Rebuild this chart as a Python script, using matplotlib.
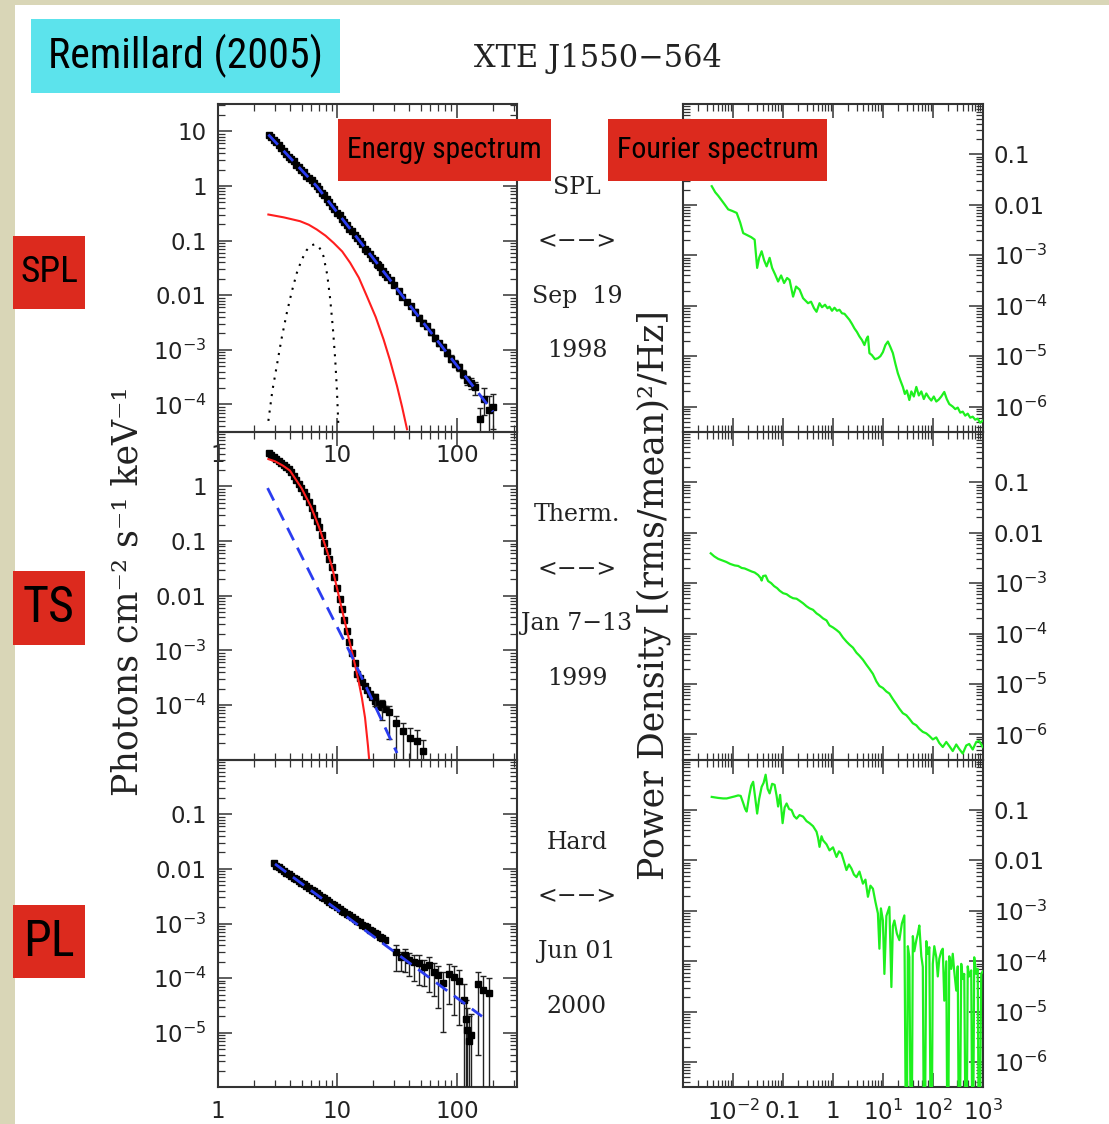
import numpy as np
import matplotlib
matplotlib.use('Agg')
import matplotlib.pyplot as plt
from matplotlib import font_manager
from matplotlib.patches import Rectangle
from matplotlib.ticker import LogLocator, FixedLocator, FuncFormatter, NullFormatter

W, H = 1109, 1124

# ---------------------------------------------------------------- energy spectra
# PCA channel energies (keV); the hard state starts at the third channel
pca_kev = [2.65, 2.78, 2.92, 3.07, 3.22, 3.38, 3.55, 3.73, 3.91, 4.11, 4.31, 4.53, 4.75, 4.99,
           5.24, 5.50, 5.78, 6.07, 6.37, 6.69, 7.02, 7.37, 7.74, 8.13, 8.54, 8.96, 9.41, 9.88,
           10.4, 10.9, 11.4, 12.0, 12.6, 13.2, 13.9, 14.6, 15.3, 16.1, 16.9, 17.7, 18.6, 19.5,
           20.5, 21.5, 22.6, 23.7, 24.9]

# log10 photon flux (photons cm^-2 s^-1 keV^-1)
spl_pca = [0.94, 0.89, 0.84, 0.80, 0.75, 0.69, 0.645, 0.59, 0.53, 0.49, 0.45, 0.39, 0.35, 0.30,
           0.26, 0.19, 0.15, 0.10, 0.05, 0.00, -0.06, -0.12, -0.17, -0.24, -0.30, -0.36, -0.42,
           -0.50, -0.54, -0.60, -0.66, -0.72, -0.78, -0.83, -0.90, -0.95, -1.01, -1.07, -1.15,
           -1.19, -1.25, -1.31, -1.35, -1.43, -1.49, -1.57, -1.61]
ts_pca = [0.61, 0.58, 0.54, 0.51, 0.47, 0.43, 0.40, 0.36, 0.32, 0.27, 0.19, 0.12, 0.05, -0.03,
          -0.10, -0.18, -0.29, -0.40, -0.52, -0.63, -0.75, -0.89, -1.03, -1.18, -1.32, -1.47,
          -1.66, -1.86, -2.06, -2.25, -2.45, -2.65, -2.85, -3.04, -3.24, -3.43, -3.50, -3.58,
          -3.66, -3.73, -3.80, -3.86, -3.92, -3.98, -4.01, -4.04, -4.07]
pl_pca = [-1.90, -1.94, -1.96, -2.01, -2.03, -2.07, -2.09, -2.13, -2.16, -2.19, -2.22, -2.26,
          -2.28, -2.32, -2.35, -2.38, -2.41, -2.45, -2.47, -2.51, -2.54, -2.57, -2.60, -2.64,
          -2.66, -2.70, -2.73, -2.77, -2.79, -2.83, -2.85, -2.89, -2.92, -2.95, -2.98, -3.02,
          -3.04, -3.06, -3.12, -3.13, -3.17, -3.20, -3.25, -3.26, -3.30]

# HEXTE points: (keV, log10 flux, dex below, dex above)
spl_hexte = [(22, -1.44, 0.02, 0.02), (24, -1.56, 0.02, 0.02), (26, -1.66, 0.02, 0.02),
             (28, -1.73, 0.02, 0.02), (30, -1.81, 0.03, 0.03), (32.5, -1.93, 0.03, 0.03),
             (35, -2.03, 0.03, 0.03), (38, -2.12, 0.03, 0.03), (41, -2.19, 0.03, 0.03),
             (44.5, -2.30, 0.04, 0.04), (48, -2.41, 0.04, 0.04), (52, -2.50, 0.04, 0.04),
             (56, -2.57, 0.04, 0.04), (60.5, -2.67, 0.05, 0.05), (65, -2.78, 0.05, 0.05),
             (70.5, -2.88, 0.05, 0.05), (76, -2.94, 0.05, 0.05), (82.5, -3.05, 0.06, 0.06),
             (89, -3.16, 0.06, 0.06), (96.5, -3.25, 0.07, 0.06), (104, -3.32, 0.07, 0.06),
             (112, -3.44, 0.08, 0.07), (121, -3.55, 0.10, 0.08), (131, -3.60, 0.12, 0.09),
             (141, -3.68, 0.15, 0.10), (155, -4.27, 0.30, 0.20), (170, -3.90, 0.30, 0.20),
             (185, -4.10, 0.45, 0.25), (200, -4.05, 0.40, 0.25)]
ts_hexte = [(20.5, -3.86, 0.15, 0.06), (23.5, -3.98, 0.30, 0.08), (27, -4.12, 0.50, 0.10),
            (31, -4.33, 0.80, 0.12), (35.5, -4.48, 1.00, 0.15), (40.5, -4.60, 1.00, 0.18),
            (46, -4.66, 1.00, 0.20), (52, -4.85, 1.00, 0.20)]
pl_hexte = [(31, -3.52, 0.35, 0.12), (34, -3.62, 0.25, 0.10), (37, -3.58, 0.30, 0.12),
            (40, -3.66, 0.30, 0.12), (44, -3.70, 0.35, 0.12), (48, -3.72, 0.40, 0.15),
            (53, -3.80, 0.35, 0.14), (58, -3.76, 0.50, 0.15), (64, -3.88, 0.45, 0.15),
            (70, -3.95, 0.60, 0.18), (77, -4.08, 0.90, 0.20), (85, -3.92, 0.55, 0.17),
            (94, -3.98, 0.70, 0.20), (104, -4.05, 0.80, 0.20), (114, -4.40, 2.0, 0.30),
            (118, -4.75, 2.0, 0.35), (122, -4.95, 2.0, 0.40), (126, -5.15, 2.0, 0.45),
            (131, -5.05, 2.0, 0.40), (150, -4.10, 1.3, 0.22), (165, -4.22, 2.0, 0.25),
            (185, -4.28, 2.0, 0.28)]

# model components: (keV, log10 flux)
spl_powerlaw = [(2.64, 0.94), (6.7, -0.005), (20, -1.33), (60, -2.67), (200, -4.13)]
spl_disk = [(2.64, -0.523), (3.55, -0.575), (4.86, -0.645), (5.75, -0.71), (6.71, -0.797),
            (7.94, -0.91), (9.26, -1.04), (10.96, -1.20), (12.76, -1.406), (15.1, -1.68),
            (17.6, -2.016), (20.9, -2.40), (24.3, -2.808), (27.5, -3.19), (31.5, -3.662),
            (34.7, -4.04), (38.2, -4.453)]
spl_line = [(2.64, -4.30), (2.85, -3.75), (3.1, -3.30), (3.4, -2.80), (3.77, -2.32), (4.15, -1.93),
            (4.57, -1.59), (5.0, -1.36), (5.5, -1.18), (6.0, -1.09), (6.4, -1.07), (6.9, -1.10),
            (7.3, -1.18), (7.63, -1.285), (8.2, -1.62), (8.69, -2.07), (9.15, -2.60), (9.57, -3.17),
            (9.9, -3.75), (10.2, -4.45)]
ts_powerlaw = [(2.6, -0.03), (6.7, -1.83), (12.8, -3.05), (31.5, -4.88)]
ts_disk = [(2.64, 0.50), (3.0, 0.46), (3.5, 0.38), (4.0, 0.29), (5.0, -0.03), (6.0, -0.37),
           (7.0, -0.74), (8.0, -1.12), (9.0, -1.47), (10.0, -1.90), (11.0, -2.29), (12.0, -2.64),
           (13.0, -2.96), (14.0, -3.26), (15.0, -3.56), (16.0, -3.87), (17.0, -4.23), (18.0, -4.75),
           (18.5, -5.05)]
pl_powerlaw = [(3.0, -1.91), (162, -4.70)]

# ---------------------------------------------------------------- power density spectra
# (log10 Hz, log10 (rms/mean)^2/Hz); -9 marks bins that fall to zero / negative
spl_pds = [(-2.43, -1.63), (-2.36, -1.75), (-2.30, -1.82), (-2.24, -1.90), (-2.18, -1.98),
           (-2.10, -2.09), (-2.02, -2.12), (-1.93, -2.16), (-1.86, -2.35), (-1.80, -2.56),
           (-1.72, -2.60), (-1.64, -2.64), (-1.57, -2.69), (-1.52, -3.25), (-1.48, -3.05),
           (-1.43, -2.92), (-1.38, -3.10), (-1.33, -3.22), (-1.27, -3.05), (-1.22, -3.25),
           (-1.16, -3.38), (-1.10, -3.52), (-1.04, -3.40), (-0.98, -3.55), (-0.92, -3.45),
           (-0.87, -3.49), (-0.80, -3.82), (-0.74, -3.62), (-0.67, -3.68), (-0.60, -3.85),
           (-0.55, -3.90), (-0.50, -3.95), (-0.44, -3.92), (-0.38, -4.05), (-0.33, -4.12),
           (-0.27, -3.95), (-0.22, -4.03), (-0.16, -3.98), (-0.11, -4.05), (-0.07, -4.02),
           (-0.02, -4.10), (0.03, -4.04), (0.08, -4.10), (0.13, -4.08), (0.18, -4.15),
           (0.23, -4.16), (0.28, -4.22), (0.33, -4.28), (0.38, -4.36), (0.43, -4.45),
           (0.48, -4.52), (0.53, -4.61), (0.58, -4.68), (0.63, -4.78), (0.67, -4.66),
           (0.70, -4.61), (0.73, -4.94), (0.78, -4.98), (0.84, -5.06), (0.90, -5.04),
           (0.95, -5.00), (1.00, -4.92), (1.05, -4.78), (1.10, -4.71), (1.15, -4.82),
           (1.20, -4.94), (1.25, -5.15), (1.30, -5.34), (1.35, -5.48), (1.40, -5.61),
           (1.44, -5.75), (1.48, -5.68), (1.53, -5.87), (1.57, -5.70), (1.62, -5.80),
           (1.67, -5.61), (1.72, -5.78), (1.77, -5.70), (1.82, -5.85), (1.87, -5.74),
           (1.92, -5.82), (1.97, -5.88), (2.02, -5.80), (2.07, -5.90), (2.12, -5.86),
           (2.17, -5.80), (2.23, -5.71), (2.28, -5.85), (2.33, -5.95), (2.40, -6.00),
           (2.45, -6.05), (2.50, -6.02), (2.55, -6.12), (2.60, -6.10), (2.65, -6.18),
           (2.70, -6.14), (2.75, -6.22), (2.80, -6.20), (2.85, -6.26), (2.90, -6.24),
           (2.95, -6.32), (3.00, -6.28)]
ts_pds = [(-2.45, -2.41), (-2.38, -2.47), (-2.30, -2.52), (-2.22, -2.55), (-2.14, -2.58),
          (-2.06, -2.62), (-1.97, -2.65), (-1.90, -2.66), (-1.83, -2.70), (-1.77, -2.71),
          (-1.70, -2.74), (-1.63, -2.77), (-1.57, -2.79), (-1.50, -2.84), (-1.45, -2.90),
          (-1.43, -2.95), (-1.40, -2.86), (-1.35, -2.85), (-1.30, -2.96), (-1.24, -3.00),
          (-1.18, -3.06), (-1.12, -3.10), (-1.07, -3.15), (-1.00, -3.20), (-0.93, -3.22),
          (-0.86, -3.27), (-0.80, -3.30), (-0.73, -3.31), (-0.67, -3.35), (-0.60, -3.40),
          (-0.53, -3.46), (-0.47, -3.50), (-0.40, -3.53), (-0.33, -3.60), (-0.27, -3.64),
          (-0.20, -3.70), (-0.13, -3.74), (-0.07, -3.84), (0.00, -3.88), (0.07, -3.93),
          (0.13, -3.98), (0.20, -4.08), (0.27, -4.16), (0.33, -4.22), (0.40, -4.28),
          (0.47, -4.38), (0.53, -4.44), (0.60, -4.52), (0.67, -4.62), (0.73, -4.70),
          (0.80, -4.80), (0.87, -4.95), (0.93, -5.04), (1.00, -5.08), (1.07, -5.15),
          (1.13, -5.19), (1.20, -5.30), (1.27, -5.40), (1.33, -5.49), (1.40, -5.58),
          (1.47, -5.62), (1.53, -5.69), (1.60, -5.78), (1.67, -5.82), (1.73, -5.89),
          (1.80, -5.95), (1.87, -5.98), (1.93, -6.03), (2.00, -6.10), (2.07, -6.06),
          (2.13, -6.17), (2.20, -6.25), (2.27, -6.15), (2.33, -6.23), (2.40, -6.33),
          (2.47, -6.20), (2.53, -6.29), (2.60, -6.38), (2.67, -6.22), (2.73, -6.19),
          (2.80, -6.30), (2.87, -6.15), (2.93, -6.13), (3.00, -6.25)]
pl_pds = [(-2.43, -0.74), (-2.30, -0.76), (-2.20, -0.77), (-2.13, -0.77), (-2.05, -0.75),
          (-1.97, -0.73), (-1.90, -0.71), (-1.85, -0.72), (-1.80, -0.86), (-1.76, -0.98),
          (-1.73, -1.03), (-1.68, -0.72), (-1.64, -0.52), (-1.60, -0.44), (-1.56, -0.75),
          (-1.52, -1.07), (-1.48, -0.78), (-1.43, -0.54), (-1.39, -0.46), (-1.35, -0.30),
          (-1.31, -0.58), (-1.27, -0.67), (-1.22, -0.48), (-1.17, -0.50), (-1.13, -0.72),
          (-1.10, -0.93), (-1.06, -0.70), (-1.01, -1.26), (-0.97, -0.95), (-0.93, -0.87),
          (-0.88, -0.98), (-0.83, -1.00), (-0.78, -1.12), (-0.73, -1.17), (-0.67, -1.10),
          (-0.60, -1.13), (-0.53, -1.22), (-0.47, -1.26), (-0.40, -1.32), (-0.33, -1.43),
          (-0.30, -1.55), (-0.27, -1.73), (-0.23, -1.52), (-0.20, -1.60), (-0.13, -1.68),
          (-0.07, -1.80), (0.00, -1.74), (0.07, -1.93), (0.12, -1.82), (0.17, -1.86),
          (0.22, -2.02), (0.27, -2.19), (0.32, -2.08), (0.37, -2.16), (0.42, -2.28),
          (0.47, -2.33), (0.53, -2.22), (0.60, -2.46), (0.65, -2.38), (0.70, -2.72),
          (0.75, -2.50), (0.80, -2.56), (0.85, -2.82), (0.90, -3.05), (0.93, -3.75),
          (0.96, -2.95), (1.00, -3.19), (1.03, -4.25), (1.07, -3.10), (1.13, -2.92),
          (1.17, -4.51), (1.20, -3.30), (1.23, -3.19), (1.28, -3.45), (1.33, -3.58),
          (1.38, -3.25), (1.43, -3.09), (1.47, -9), (1.50, -3.70), (1.53, -3.92),
          (1.57, -9), (1.60, -3.50), (1.63, -3.80), (1.67, -3.58), (1.70, -3.45),
          (1.73, -3.29), (1.77, -3.90), (1.80, -4.11), (1.83, -9), (1.87, -3.60),
          (1.90, -3.85), (1.93, -3.72), (1.97, -9), (2.00, -4.05), (2.03, -3.70),
          (2.07, -3.92), (2.10, -4.30), (2.13, -3.95), (2.17, -3.80), (2.20, -3.75),
          (2.23, -4.78), (2.27, -4.00), (2.30, -9), (2.33, -3.90), (2.37, -4.15),
          (2.40, -3.85), (2.43, -4.20), (2.47, -4.58), (2.50, -4.10), (2.53, -9),
          (2.57, -4.05), (2.60, -4.35), (2.63, -4.25), (2.67, -9), (2.70, -4.10),
          (2.73, -4.30), (2.77, -4.18), (2.80, -9), (2.83, -3.92), (2.87, -4.25),
          (2.90, -4.15), (2.93, -9), (2.97, -4.25), (3.00, -4.20)]

states = ['SPL', 'TS', 'PL']
dates = [['SPL', '<−−>', 'Sep  19', '1998'],
         ['Therm.', '<−−>', 'Jan 7−13', '1999'],
         ['Hard', '<−−>', 'Jun 01', '2000']]

# ---------------------------------------------------------------- helpers
plt.rcParams['font.family'] = 'DejaVu Sans'
plt.rcParams['mathtext.fontset'] = 'dejavusans'
SERIF = 'DejaVu Serif'
names = {f.name for f in font_manager.fontManager.ttflist}
narrow = [n for n in ('Liberation Sans Narrow', 'Roboto Condensed', 'DejaVu Sans Condensed') if n in names]
BOXFONT = narrow[0] if narrow else 'DejaVu Sans'


def fx(x):
    return x / W


def fy(y):
    return 1 - y / H


def unlog(pts):
    a = np.array(pts, dtype=float)
    return a[:, 0], 10 ** a[:, 1]


def flux_label(shown):
    names = {1: '10', 0: '1', -1: '0.1', -2: '0.01'}

    def fmt(v, pos):
        e = int(round(np.log10(v)))
        if e not in shown:
            return ''
        return names.get(e, '10$^{%d}$' % e)
    return fmt


def freq_label(v, pos):
    e = int(round(np.log10(v)))
    return {-3: '', -1: '0.1', 0: '1'}.get(e, '10$^{%d}$' % e)


def style(ax, xdec, ydec, ylab_side, yshown):
    ax.set_facecolor('none')
    ax.xaxis.set_major_locator(FixedLocator([10.0 ** k for k in xdec]))
    ax.xaxis.set_minor_locator(LogLocator(10, subs=np.arange(2, 10), numticks=40))
    ax.yaxis.set_major_locator(FixedLocator([10.0 ** k for k in ydec]))
    ax.yaxis.set_minor_locator(LogLocator(10, subs=np.arange(2, 10), numticks=40))
    ax.yaxis.set_minor_formatter(NullFormatter())
    ax.xaxis.set_minor_formatter(NullFormatter())
    ax.yaxis.set_major_formatter(FuncFormatter(flux_label(yshown)))
    ax.tick_params(which='both', direction='in', top=True, right=True, color='#333333',
                   labelsize=16.5, labelcolor='#222222')
    ax.tick_params(which='major', length=10, width=1.1)
    ax.tick_params(which='minor', length=5, width=0.9)
    if ylab_side == 'right':
        ax.tick_params(axis='y', labelleft=False, labelright=True, pad=8)
    else:
        ax.tick_params(axis='y', pad=8)
    for s in ax.spines.values():
        s.set_color('#333333')
        s.set_linewidth(1.5)


def draw_box(x0, y0, x1, y1, color, label, cap_px, margin):
    fig.patches.append(Rectangle((fx(x0), fy(y1)), fx(x1) - fx(x0), fy(y0) - fy(y1),
                                 transform=fig.transFigure, facecolor=color,
                                 edgecolor='none', zorder=5))
    t = fig.text(fx((x0 + x1) / 2), fy((y0 + y1) / 2), label, ha='center', va='center',
                 family=BOXFONT, fontstretch='condensed', fontsize=20, color='black', zorder=6)
    # scale the caption to fill its box
    r = fig.canvas.get_renderer()
    w = t.get_window_extent(r).width
    size = 20 * (x1 - x0 - margin) / w
    size = min(size, cap_px / 0.72 * 72 / 100)
    t.set_fontsize(size)


# ---------------------------------------------------------------- figure
fig = plt.figure(figsize=(W / 100, H / 100), dpi=100, facecolor='#d9d6b7')
fig.patches.append(Rectangle((fx(15), 0), 1 - fx(15), fy(5), transform=fig.transFigure,
                             facecolor='white', edgecolor='none', zorder=-1))

tops = [104, 431.8, 759.6]
ph = 327.8
LX0, LX1 = 218, 516.7
RX0, RX1 = 683.3, 982.7

spec_ylim = [(10 ** -4.5, 10 ** 1.5), (1e-5, 10), (1e-6, 1)]
spec_ydec = [range(-4, 2), range(-5, 2), range(-6, 1)]
spec_shown = [set(range(-4, 2)), set(range(-4, 1)), set(range(-5, 0))]

BLUE = '#2a3cf0'
RED = '#ff1e1e'
GREEN = '#1ef01e'

pca_e = [pca_kev, pca_kev, pca_kev[2:]]
pca_fl = [spl_pca, ts_pca, pl_pca]
hexte = [spl_hexte, ts_hexte, pl_hexte]
pds = [spl_pds, ts_pds, pl_pds]

for i in range(3):
    top = tops[i]
    axl = fig.add_axes([fx(LX0), fy(top + ph), fx(LX1) - fx(LX0), ph / H])
    axr = fig.add_axes([fx(RX0), fy(top + ph), fx(RX1) - fx(RX0), ph / H])

    # energy spectrum
    axl.set_xscale('log')
    axl.set_yscale('log')
    axl.set_xlim(1, 10 ** 2.5)
    axl.set_ylim(*spec_ylim[i])
    style(axl, [0, 1, 2], spec_ydec[i], 'left', spec_shown[i])
    axl.xaxis.set_major_formatter(FuncFormatter(lambda v, p: '%d' % round(v)))
    axl.tick_params(axis='x', pad=9)
    if i == 1:
        axl.tick_params(axis='x', labelbottom=False)

    axl.plot(pca_e[i], 10 ** np.array(pca_fl[i]), 's', ms=4.4, color='black', zorder=3)
    hx = np.array(hexte[i], dtype=float)
    f = 10 ** hx[:, 1]
    lo = f - 10 ** (hx[:, 1] - hx[:, 2])
    hi = 10 ** (hx[:, 1] + hx[:, 3]) - f
    axl.errorbar(hx[:, 0], f, yerr=[lo, hi], fmt='s', ms=4.0, color='black',
                 ecolor='#222222', elinewidth=1, capsize=2.5, zorder=3)

    if i == 0:
        e, v = unlog(spl_disk)
        axl.plot(e, v, color=RED, lw=1.5, zorder=4)
        e, v = unlog(spl_line)
        axl.plot(e, v, color='black', lw=1.5, ls=(0, (1, 3)), zorder=4)
        e, v = unlog(spl_powerlaw)
        axl.plot(e, v, color=BLUE, lw=2, ls=(0, (5, 3)), zorder=4)
    elif i == 1:
        e, v = unlog(ts_disk)
        axl.plot(e, v, color=RED, lw=1.5, zorder=4)
        e, v = unlog(ts_powerlaw)
        axl.plot(e, v, color=BLUE, lw=2, ls=(0, (5, 3)), zorder=4)
    else:
        e, v = unlog(pl_powerlaw)
        axl.plot(e, v, color=BLUE, lw=2, ls=(0, (5, 3)), zorder=4)

    # Fourier spectrum
    axr.set_xscale('log')
    axr.set_yscale('log')
    axr.set_xlim(1e-3, 1e3)
    axr.set_ylim(10 ** -6.5, 1)
    style(axr, range(-3, 4), range(-6, 1), 'right', set(range(-6, 0)))
    axr.xaxis.set_major_formatter(FuncFormatter(freq_label))
    axr.tick_params(axis='x', pad=9)
    if i < 2:
        axr.tick_params(axis='x', labelbottom=False)
    a = np.array(pds[i], dtype=float)
    axr.plot(10 ** a[:, 0], 10 ** a[:, 1], color=GREEN, lw=1.6, zorder=3)

    # state / date column between the panels
    for k, line in enumerate(dates[i]):
        fig.text(fx(577), fy(top + 83 + 54.5 * k), line, ha='center', va='center',
                 family=SERIF, fontsize=17, color='#222222')

# axis titles and headline
fig.text(fx(127), fy(591), 'Photons cm⁻² s⁻¹ keV⁻¹', rotation=90, ha='center', va='center',
         family=SERIF, fontsize=25, color='#222222')
fig.text(fx(654), fy(595), 'Power Density [(rms/mean)²/Hz]', rotation=90, ha='center',
         va='center', family=SERIF, fontsize=25, color='#222222')
fig.text(fx(598), fy(58), 'XTE J1550−564', ha='center', va='center', family=SERIF,
         fontsize=22, color='#222222')

# slide captions
draw_box(31, 19, 340, 93, '#5ce3ec', 'Remillard (2005)', 38, 34)
draw_box(338, 119, 551, 181, '#dc2a1e', 'Energy spectrum', 27, 18)
draw_box(608, 119, 827, 181, '#dc2a1e', 'Fourier spectrum', 27, 18)
for label, (y0, y1) in zip(states, [(236, 309), (571, 645), (905, 978)]):
    draw_box(13, y0, 85, y1, '#dc2a1e', label, 36, 14)

fig.savefig('out.png', dpi=100, facecolor=fig.get_facecolor())
